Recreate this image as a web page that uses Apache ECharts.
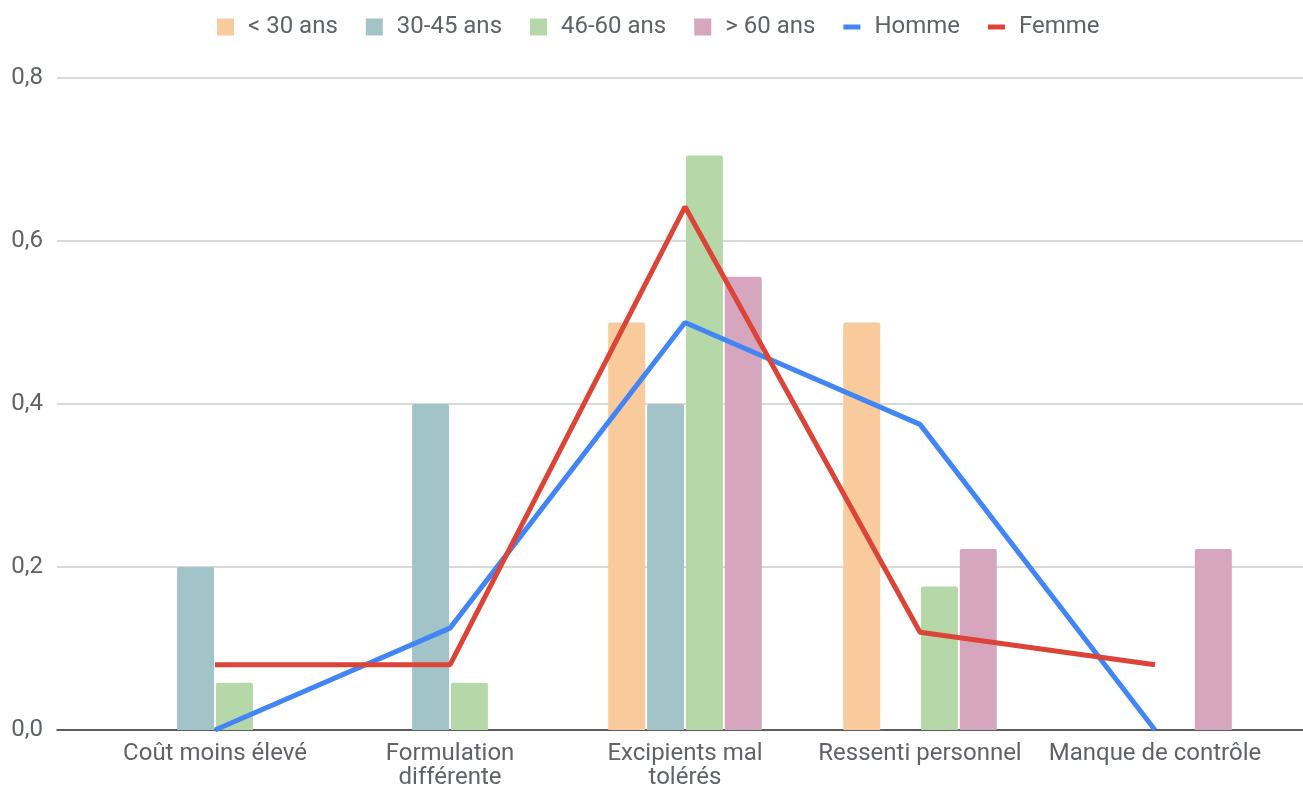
<!DOCTYPE html>
<html>
<head>
<meta charset="utf-8">
<style>
  html, body { margin: 0; padding: 0; background: #fff; }
  #chart { width: 1303px; height: 788px; }
</style>
<script src="https://cdn.jsdelivr.net/npm/echarts@6/dist/echarts.min.js"></script>
</head>
<body>
<div id="chart"></div>
<script>
var categories = ['Coût moins élevé', 'Formulation\ndifférente', 'Excipients mal\ntolérés', 'Ressenti personnel', 'Manque de contrôle'];
var moins30 = [0, 0, 0.5, 0.5, 0];
var de30a45 = [0.2, 0.4, 0.4, 0, 0];
var de46a60 = [0.058, 0.058, 0.705, 0.176, 0];
var plus60 = [0, 0, 0.556, 0.222, 0.222];
var homme = [0, 0.125, 0.5, 0.375, 0];
var femme = [0.08, 0.08, 0.642, 0.12, 0.08];
var yTicks = [0, 0.2, 0.4, 0.6, 0.8];

var dom = document.getElementById('chart');
var myChart = echarts.init(dom);

var txtColor = '#5f6368';
var lineIcon = 'path://M0,0H17V5H0Z';

function barSeries(name, data, color) {
    return {
        name: name,
        type: 'bar',
        xAxisIndex: 1,
        yAxisIndex: 1,
        data: data,
        barWidth: 37,
        barGap: '5%',
        itemStyle: { color: color, borderRadius: [2, 2, 0, 0] }
    };
}

function lineSeries(name, data, color) {
    return {
        name: name,
        type: 'line',
        xAxisIndex: 1,
        yAxisIndex: 1,
        data: data,
        symbol: 'none',
        lineStyle: { color: color, width: 5 },
        itemStyle: { color: color },
        z: 5
    };
}

var option = {
    animation: false,
    textStyle: { fontFamily: 'Roboto' },
    legend: {
        top: 10,
        left: 212,
        itemWidth: 17,
        itemHeight: 17,
        itemGap: 28,
        textStyle: { color: txtColor, fontSize: 24, padding: [0, 0, 0, 9] },
        data: [
            { name: '< 30 ans', icon: 'rect' },
            { name: '30-45 ans', icon: 'rect' },
            { name: '46-60 ans', icon: 'rect' },
            { name: '> 60 ans', icon: 'rect' },
            { name: 'Homme', icon: lineIcon },
            { name: 'Femme', icon: lineIcon }
        ]
    },
    grid: [
        { left: 57, right: 0, top: 78, bottom: 58, outerBoundsMode: 'none' },
        { left: 97.5, right: 30.5, top: 78, bottom: 58, outerBoundsMode: 'none' }
    ],
    xAxis: [{
        gridIndex: 0,
        type: 'category',
        data: [''],
        axisLine: { show: true, lineStyle: { color: '#333', width: 1.5 } },
        axisTick: { show: false },
        axisLabel: { show: false },
        splitLine: { show: false }
    }, {
        gridIndex: 1,
        type: 'category',
        data: categories,
        axisLine: { show: false },
        axisTick: { show: false },
        axisLabel: {
            color: txtColor,
            fontSize: 24,
            lineHeight: 24,
            margin: 12,
            interval: 0
        },
        splitLine: { show: false }
    }],
    yAxis: [{
        gridIndex: 0,
        type: 'value',
        min: yTicks[0],
        max: yTicks[yTicks.length - 1],
        interval: 0.2,
        axisLine: { show: false },
        axisTick: { show: false },
        axisLabel: {
            color: txtColor,
            fontSize: 24,
            margin: 14,
            formatter: function (v) { return v.toFixed(1).replace('.', ','); }
        },
        splitLine: { show: true, lineStyle: { color: '#cccccc', width: 1.5 } }
    }, {
        gridIndex: 1,
        type: 'value',
        min: yTicks[0],
        max: yTicks[yTicks.length - 1],
        interval: 0.2,
        show: false,
        splitLine: { show: false }
    }],
    series: [
        barSeries('< 30 ans', moins30, '#f9cb9c'),
        barSeries('30-45 ans', de30a45, '#a2c4c9'),
        barSeries('46-60 ans', de46a60, '#b6d7a8'),
        barSeries('> 60 ans', plus60, '#d5a6bd'),
        lineSeries('Homme', homme, '#4285f4'),
        lineSeries('Femme', femme, '#db4437')
    ]
};

myChart.setOption(option, true);
window.addEventListener('resize', function () {
    myChart.resize();
});
</script>
</body>
</html>
